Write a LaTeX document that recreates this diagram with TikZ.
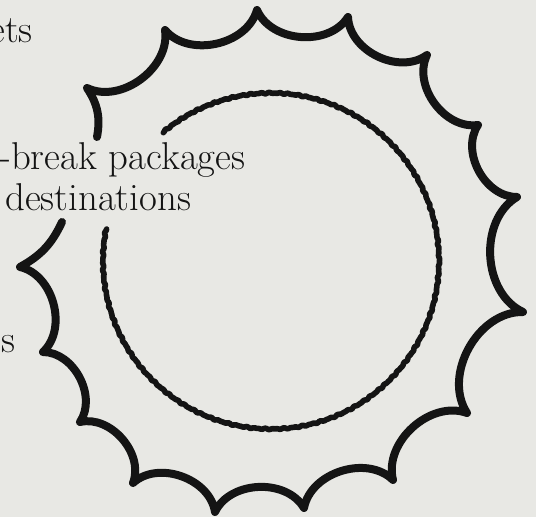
\documentclass[tikz,border=0pt]{standalone}
\usepackage{tikz}

\definecolor{paper}{RGB}{232,232,228}
\definecolor{ink}{RGB}{20,20,20}

\begin{document}
\begin{tikzpicture}[
        x=0.5pt, y=-0.5pt,
        lbl/.style={inner sep=0pt, anchor=base west, text=ink, font=\fontsize{19.4}{22}\selectfont},
        rim/.style={draw=ink, line width=4pt, line join=round, line cap=round},
        wobble/.style={draw=ink, line width=2.8pt, line join=round, line cap=round}
    ]
        \fill[paper] (0,0) rectangle (536,517);
        \useasboundingbox (0,0) rectangle (536,517);

        \node[lbl] (ets) at (-11,43) {ets};
        \node[lbl] (brk) at (-1,170) {-break packages};
        \node[lbl] (dst) at (5,211) {destinations};
        \node[lbl] (s) at (1,353) {s};

        \coordinate (p0) at (97,137);
        \coordinate (c1) at (87,88);
        \coordinate (c2) at (165,30);
        \coordinate (c3) at (257,10);
        \coordinate (c4) at (348,17);
        \coordinate (c5) at (427,55);
        \coordinate (c6) at (478,125);
        \coordinate (c7) at (517,197);
        \coordinate (c8) at (523,312);
        \coordinate (c9) at (467,413);
        \coordinate (c10) at (393,480);
        \coordinate (c11) at (304,508);
        \coordinate (c12) at (215,512);
        \coordinate (c13) at (133,483);
        \coordinate (c14) at (80,422);
        \coordinate (c15) at (43,352);
        \coordinate (c16) at (20,267);
        \coordinate (p1) at (62,222);

        \draw[rim] (p0) to[bend right=22] (c1)
            \foreach \i in {2,...,16} { to[bend right=62] (c\i) }
            to[bend right=18] (p1);

        \draw[wobble] plot[domain=130:-191, samples=600]
            ({271+(168+0.45*sin(360*frac(\x/3.2))+0.35*sin(360*frac(\x/2.1)))*cos(\x)},
             {261-(168+0.45*sin(360*frac(\x/3.2))+0.35*sin(360*frac(\x/2.1)))*sin(\x)});
    \end{tikzpicture}
\end{document}
